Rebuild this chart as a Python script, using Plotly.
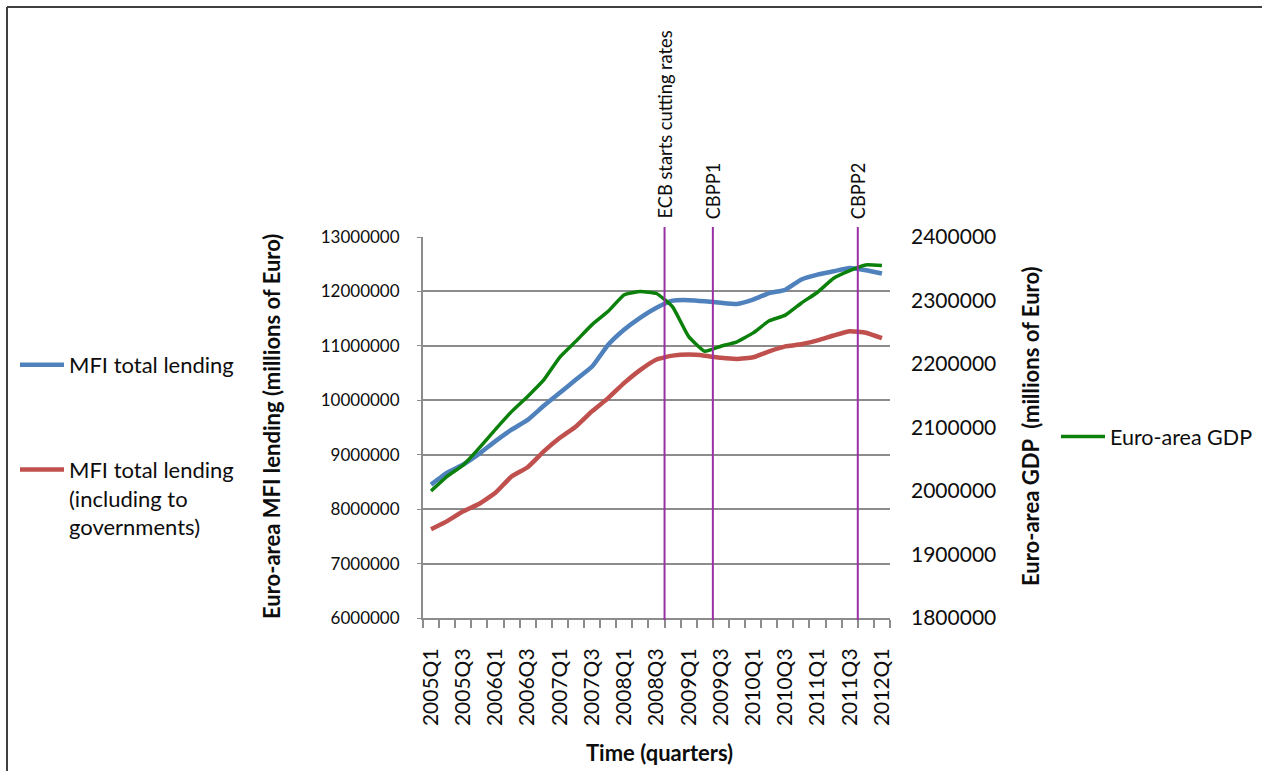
import plotly.graph_objects as go

# Quarterly periods covered by the series
quarters = [f"{y}Q{q}" for y in range(2005, 2013) for q in range(1, 5)][:29]

# MFI total lending, millions of euro
mfi_lending = [8450000, 8670000, 8820000, 9020000, 9250000, 9460000, 9640000, 9900000,
               10140000, 10380000, 10620000, 11020000, 11300000, 11520000, 11700000,
               11830000, 11840000, 11820000, 11790000, 11770000, 11850000, 11970000,
               12030000, 12220000, 12310000, 12370000, 12430000, 12390000, 12330000]

# MFI total lending including lending to governments, millions of euro
mfi_lending_gov = [7630000, 7780000, 7960000, 8100000, 8300000, 8600000, 8770000, 9060000,
                   9310000, 9520000, 9800000, 10040000, 10320000, 10560000, 10750000,
                   10820000, 10840000, 10820000, 10780000, 10760000, 10790000, 10900000,
                   10990000, 11030000, 11100000, 11190000, 11270000, 11240000, 11140000]

# Euro-area GDP, millions of euro
gdp = [2000000, 2023000, 2041000, 2068000, 2097000, 2125000, 2149000, 2175000,
       2211000, 2236000, 2262000, 2283000, 2309000, 2314000, 2311000,
       2290000, 2243000, 2220000, 2228000, 2235000, 2249000, 2268000,
       2277000, 2296000, 2313000, 2335000, 2347000, 2356000, 2355000]

# Policy events, drawn just after the listed quarter
events = ["ECB starts cutting rates", "CBPP1", "CBPP2"]
event_after = ["2008Q3", "2009Q2", "2011Q3"]

x = list(range(len(quarters)))
FONT = "Lato, 'Open Sans', sans-serif"
TXT = "#0d0d0d"

# plot-area geometry in pixels (for paper-coordinate helpers)
W, H = 1262, 771
L, R, T, B = 423, 890, 237, 618


def px(xp):
    return (xp - L) / (R - L)


def py(yp):
    return (B - yp) / (B - T)


def cx(xp):
    return xp / W


def cy(yp):
    return 1 - yp / H


fig = go.Figure()
fig.add_trace(go.Scatter(
    x=x, y=mfi_lending, name="MFI total lending", mode="lines",
    line=dict(color="#4F81BD", width=4.5, shape="spline", smoothing=0.4),
    legend="legend", legendgroup="a"))
fig.add_trace(go.Scatter(
    x=x, y=mfi_lending_gov, name="MFI total lending<br>(including to<br>governments)",
    mode="lines", line=dict(color="#C0504D", width=4.5, shape="spline", smoothing=0.4),
    legend="legend", legendgroup="b"))
fig.add_trace(go.Scatter(
    x=x, y=gdp, name="Euro-area GDP", mode="lines", yaxis="y2",
    line=dict(color="#0B800B", width=3.5, shape="spline", smoothing=0.4),
    legend="legend2"))

shapes = []
annotations = []
for label, q in zip(events, event_after):
    xe = quarters.index(q) + 0.5
    shapes.append(dict(type="line", xref="x", yref="paper", x0=xe, x1=xe,
                       y0=py(620), y1=py(227),
                       line=dict(color="#9B30A6", width=2)))
    annotations.append(dict(x=xe, y=py(221), xref="x", yref="paper", text=label,
                            showarrow=False, textangle=-90, xanchor="center",
                            yanchor="bottom", font=dict(family=FONT, size=18.3, color=TXT)))

# outer frame (left and top edges)
shapes.append(dict(type="line", xref="paper", yref="paper", x0=px(7), x1=px(7),
                   y0=py(771), y1=py(7), line=dict(color="#404040", width=2)))
shapes.append(dict(type="line", xref="paper", yref="paper", x0=px(7), x1=px(1262),
                   y0=py(7), y1=py(7), line=dict(color="#404040", width=2)))

# axis titles
title_font = dict(family=FONT, size=22, color=TXT)
annotations.append(dict(x=px(271), y=py(427), xref="paper", yref="paper",
                        xanchor="center", yanchor="middle",
                        text="<b>Euro-area MFI lending (millions of Euro)</b>",
                        textangle=-90, showarrow=False, font=title_font))
annotations.append(dict(x=px(1030), y=py(427), xref="paper", yref="paper",
                        xanchor="center", yanchor="middle",
                        text="<b>Euro-area GDP  (millions of Euro)</b>",
                        textangle=-90, showarrow=False, font=title_font))
annotations.append(dict(x=px(659), y=py(752), xref="paper", yref="paper",
                        xanchor="center", yanchor="middle",
                        text="<b>Time (quarters)</b>", showarrow=False, font=title_font))

fig.update_layout(
    width=W, height=H,
    margin=dict(l=L, r=W - R, t=T, b=H - B, pad=0, autoexpand=False),
    paper_bgcolor="white", plot_bgcolor="white",
    font=dict(family=FONT, size=16, color=TXT),
    shapes=shapes, annotations=annotations,
    xaxis=dict(
        range=[-0.5, len(quarters) - 0.5],
        tickmode="array", tickvals=x[::2], ticktext=quarters[::2],
        tickangle=-90, ticks="", showgrid=False, zeroline=False,
        showline=True, linecolor="#8c8c8c", linewidth=2,
        ticklabelstandoff=20,
        tickfont=dict(family=FONT, size=21, color=TXT),
        minor=dict(tickmode="linear", tick0=-0.5, dtick=1, ticks="outside",
                   ticklen=8, tickcolor="#8c8c8c", tickwidth=1.5, showgrid=False),
    ),
    yaxis=dict(
        range=[6000000, 13000000], dtick=1000000, tickformat="d",
        showgrid=True, gridcolor="#8c8c8c", gridwidth=2, zeroline=False,
        showline=True, linecolor="#8c8c8c", linewidth=2,
        ticks="outside", ticklen=4, tickcolor="#8c8c8c",
        ticklabelstandoff=14,
        tickfont=dict(family=FONT, size=17, color=TXT),
    ),
    yaxis2=dict(
        range=[1800000, 2400000], dtick=100000, tickformat="d",
        overlaying="y", side="right", showgrid=False, zeroline=False,
        showline=False, ticks="", ticklabelstandoff=20,
        tickfont=dict(family=FONT, size=21, color=TXT),
    ),
    legend=dict(
        xref="container", yref="container",
        x=cx(15), y=cy(344), xanchor="left", yanchor="top",
        traceorder="grouped", tracegroupgap=73, valign="top",
        bgcolor="rgba(0,0,0,0)", font=dict(family=FONT, size=22, color=TXT),
        itemwidth=44,
    ),
    legend2=dict(
        xref="container", yref="container",
        x=cx(1056), y=cy(416), xanchor="left", yanchor="top",
        bgcolor="rgba(0,0,0,0)", font=dict(family=FONT, size=21.5, color=TXT),
        itemwidth=44,
    ),
)

fig.write_html("out.html")
